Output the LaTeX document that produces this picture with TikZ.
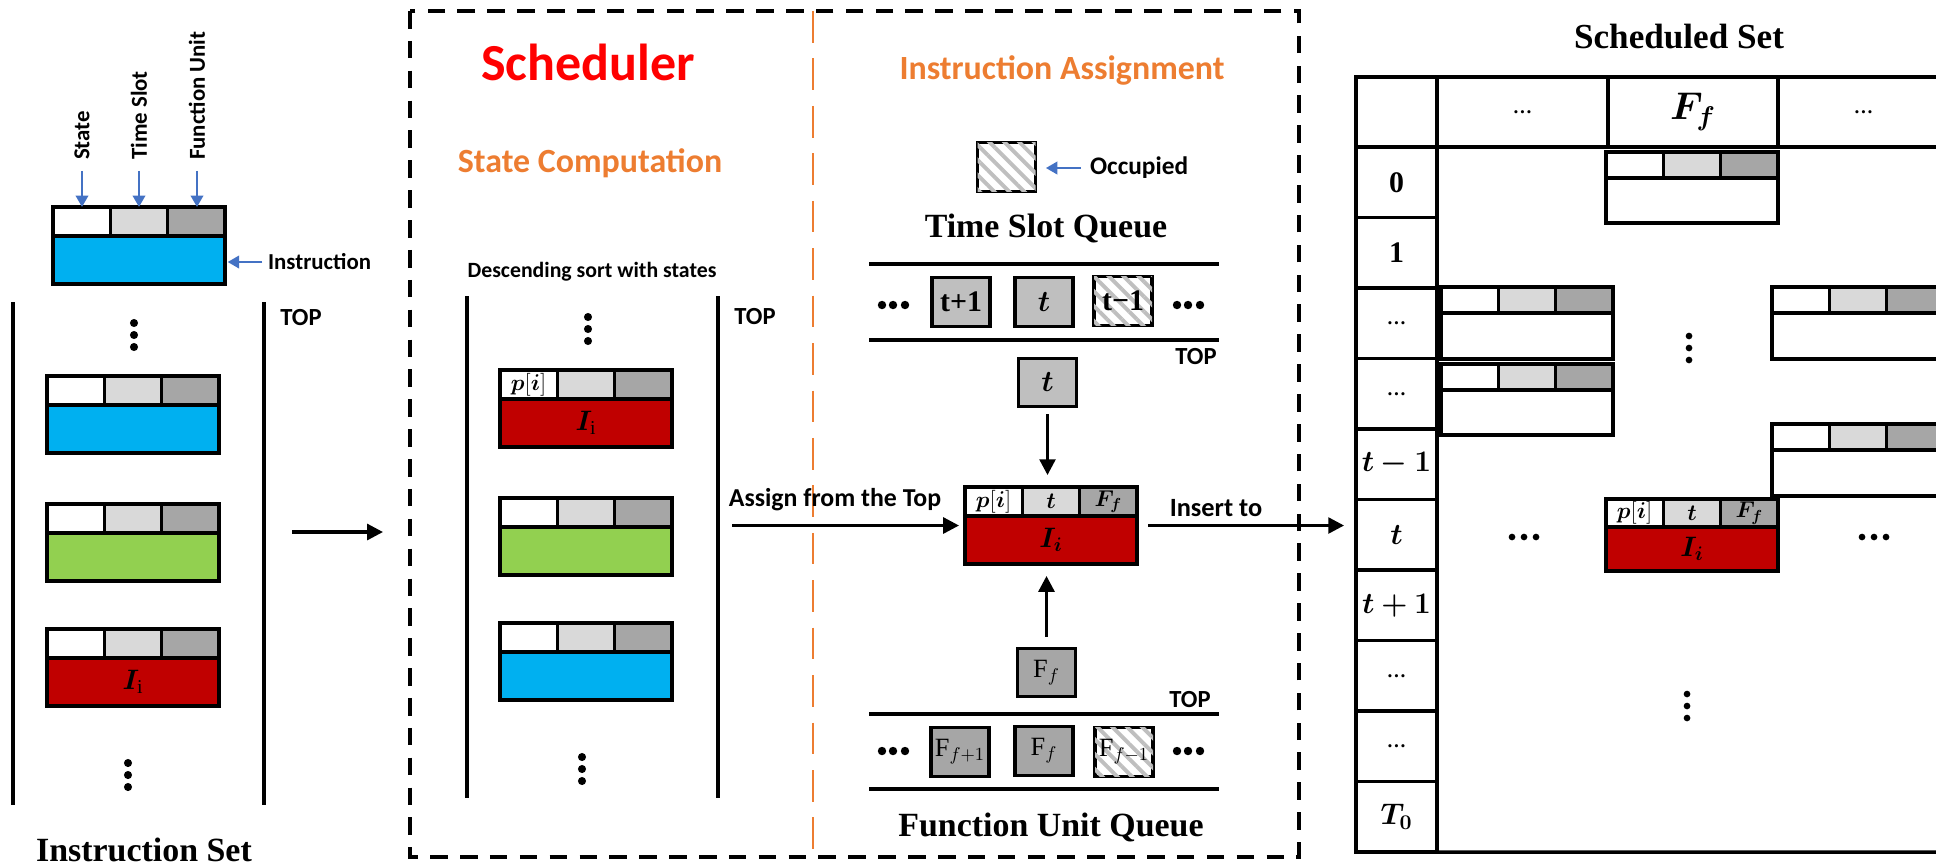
\documentclass[tikz,border=0pt]{standalone}
\usepackage{fix-cm}
\usepackage{amsmath}
\usepackage{fontspec}
\setmainfont{Liberation Serif}
\setsansfont{Carlito}
\usepackage{bm}
\usepackage{xcolor}
\usetikzlibrary{arrows.meta,patterns.meta}

\definecolor{instblue}{HTML}{00B0F0}
\definecolor{instgreen}{HTML}{92D050}
\definecolor{instred}{HTML}{C00000}
\definecolor{secorange}{HTML}{ED7D31}
\definecolor{arrblue}{HTML}{4472C4}
\definecolor{schedred}{HTML}{FF0000}
\definecolor{cellmid}{HTML}{D9D9D9}
\definecolor{cellend}{HTML}{A6A6A6}
\definecolor{slotgray}{HTML}{BFBFBF}
\definecolor{hatchgray}{HTML}{BFBFBF}

\tikzset{
  hdr/.store in=\hdr, tot/.store in=\tot, hdr=29, tot=77,
  box/.style={draw, line width=1.8pt},
  wall/.style={line width=2pt},
  celltxt/.style={inner sep=0pt, font=\fontsize{13}{14}\selectfont},
  bodytxt/.style={inner sep=0pt, font=\fontsize{16}{17}\selectfont},
  lbl/.style={inner sep=1pt, font=\sffamily\bfseries\fontsize{14}{16}\selectfont},
  capt/.style={inner sep=1pt, font=\bfseries\fontsize{19.3}{22}\selectfont},
  sect/.style={inner sep=1pt, text=secorange, font=\sffamily\bfseries\fontsize{19.3}{22}\selectfont},
  arr/.style={line width=1.8pt, -{Triangle[length=9pt,width=9pt]}},
  barr/.style={draw=arrblue, line width=1.5pt, -{Triangle[length=6.5pt,width=7pt]}},
  qbox/.style={draw, line width=1.8pt, fill=slotgray, minimum width=1.16cm, minimum height=0.97cm,
    inner sep=0pt, font=\bfseries\fontsize{17}{18}\selectfont},
  ubox/.style={qbox, fill=cellend, font=\fontsize{15}{16}\selectfont},
  hatched/.style={fill=white, postaction={pattern={Lines[angle=-45,distance=6pt,line width=2.2pt]},
    pattern color=hatchgray}},
  rowcell/.style={draw, line width=1.8pt, minimum width=1.62cm, minimum height=1.41cm, inner sep=0pt,
    outer sep=0pt, font=\bfseries\fontsize{17}{18}\selectfont},
  headcell/.style={rowcell, minimum height=1.4cm},
  pics/instr/.style n args={5}{code={
    \draw[box, fill=#1] (0,\hdr) rectangle (172,\tot);
    \draw[box, fill=white] (0,0) rectangle (57.33,\hdr);
    \draw[box, fill=cellmid] (57.33,0) rectangle (114.67,\hdr);
    \draw[box, fill=cellend] (114.67,0) rectangle (172,\hdr);
    \node[celltxt] (-c1) at (28.67,{\hdr/2}) {#2};
    \node[celltxt] (-c2) at (86,{\hdr/2}) {#3};
    \node[celltxt] (-c3) at (143.33,{\hdr/2}) {#4};
    \node[bodytxt] (-b) at (86,{(\hdr+\tot)/2}) {#5};
    \coordinate (-n) at (86,0);
    \coordinate (-s) at (86,\tot);
    \coordinate (-w) at (0,{\tot/2});
    \coordinate (-e) at (172,{\tot/2});
  }}
}

\begin{document}
\begin{tikzpicture}[x=0.02cm, y=-0.02cm]
  \useasboundingbox (0,0) rectangle (1936,867);
  \clip (0,0) rectangle (1936,867);

  % instruction set
  \pic (leg) at (53,207) {instr={instblue}{}{}{}{}};
  \node[lbl, rotate=90, anchor=west, font=\sffamily\bfseries\fontsize{13}{15}\selectfont] (lbS) at (82,162) {State};
  \node[lbl, rotate=90, anchor=west, font=\sffamily\bfseries\fontsize{13}{15}\selectfont] (lbT) at (139,162) {Time Slot};
  \node[lbl, rotate=90, anchor=west, font=\sffamily\bfseries\fontsize{13}{15}\selectfont] (lbF) at (197,162) {Function Unit};
  \node[lbl, anchor=west, font=\sffamily\bfseries\fontsize{13}{15}\selectfont] (lbI) at (266,262) {Instruction};
  \draw[barr, shorten <=5pt] (lbS.west) -- (lbS.west |- leg-n);
  \draw[barr, shorten <=5pt] (lbT.west) -- (lbT.west |- leg-n);
  \draw[barr, shorten <=5pt] (lbF.west) -- (lbF.west |- leg-n);
  \draw[barr, shorten <=2pt, shorten >=1.5pt] (lbI.west) -- (lbI.west -| leg-e);

  \draw[wall] (13,302) -- (13,805);
  \draw[wall] (264,302) -- (264,805);
  \node[lbl] (top1) at (301,318) {TOP};
  \foreach \y in {323,335,347} \fill (134,\y) circle (2.3pt);
  \pic (is1) at (47,376) {instr={instblue}{}{}{}{}};
  \pic (is2) at (47,504) {instr={instgreen}{}{}{}{}};
  \pic (is3) at (47,629) {instr={instred}{}{}{}{$\bm{I}_{\mathrm{i}}$}};
  \foreach \y in {763,775,787} \fill (128,\y) circle (2.3pt);
  \node[capt] (isc) at (144,850) {Instruction Set};

  \coordinate (la1) at (292,532);
  \coordinate (la2) at (383,532);
  \draw[arr] (la1) -- (la2);

  % scheduler
  \draw[line width=2pt, dash pattern=on 10pt off 7pt] (410,11) rectangle (1299,857);
  \draw[secorange, line width=1.6pt, dash pattern=on 18pt off 9pt] (813,11) -- (813,857);
  \node[inner sep=1pt, text=schedred, font=\sffamily\bfseries\fontsize{29.6}{32}\selectfont] (sch) at (588,62) {Scheduler};
  \node[sect] (stc) at (590,163) {State Computation};
  \node[lbl, font=\sffamily\bfseries\fontsize{12.4}{14}\selectfont] (dsc) at (592,272) {Descending sort with states};
  \draw[wall] (467,296) -- (467,798);
  \draw[wall] (718,296) -- (718,798);
  \node[lbl] (top2) at (755,317) {TOP};
  \foreach \y in {317,329,341} \fill (588,\y) circle (2.3pt);
  \pic (ss1) at (500,370) {instr={instred}{$\bm{p}[\bm{i}]$}{}{}{$\bm{I}_{\mathrm{i}}$}};
  \pic (ss2) at (500,498) {instr={instgreen}{}{}{}{}};
  \pic (ss3) at (500,623) {instr={instblue}{}{}{}{}};
  \foreach \y in {757,769,781} \fill (582,\y) circle (2.3pt);

  % instruction assignment
  \node[sect] (ias) at (1062,70) {Instruction Assignment};
  \node[qbox, hatched] (occ) at (1006.5,167) {};
  \node[lbl, anchor=west, font=\sffamily\bfseries\fontsize{14.4}{16}\selectfont] (lbO) at (1088,168) {Occupied};
  \draw[barr, shorten <=4pt, shorten >=5pt] (lbO.west) -- (lbO.west -| occ.east);

  \node[capt] (tsq) at (1046,228) {Time Slot Queue};
  \draw[wall] (869,264) -- (1219,264);
  \draw[wall] (869,340) -- (1219,340);
  \node[qbox] (tq1) at (961,302) {t+1};
  \node[qbox] (tq2) at (1044,302) {$\bm{t}$};
  \node[qbox, hatched] (tq3) at (1123,301) {t−1};
  \foreach \x in {882,893,905,1177,1188,1200} \fill (\x,305) circle (2.4pt);
  \node[lbl] (top3) at (1196,357) {TOP};
  \node[qbox] (tsel) at (1047.5,382.5) {$\bm{t}$};

  \pic (cen) at (965,487) {instr={instred}{$\bm{p}[\bm{i}]$}{$\bm{t}$}{$\bm{F_f}$}{$\bm{I_i}$}};

  \node[ubox] (fsel) at (1046.5,672.5) {$\mathrm{F}_f$};
  \node[lbl] (top4) at (1190,699) {TOP};
  \draw[wall] (869,714) -- (1219,714);
  \draw[wall] (869,789) -- (1219,789);
  \node[ubox] (fq1) at (960,752) {$\mathrm{F}_{f+1}$};
  \node[ubox] (fq2) at (1044,751) {$\mathrm{F}_f$};
  \node[ubox, hatched] (fq3) at (1124,752) {$\mathrm{F}_{f-1}$};
  \foreach \x in {882,893,905,1177,1188,1200} \fill (\x,751) circle (2.4pt);
  \node[capt] (fuq) at (1051,827) {Function Unit Queue};

  \draw[arr, shorten <=3.4pt, shorten >=6.8pt] (tsel.south) -- (tsel.south |- cen-n);
  \draw[arr, shorten <=5.7pt, shorten >=6.8pt] (fsel.north) -- (fsel.north |- cen-s);
  \coordinate (asg) at (732,525.5);
  \node[lbl, font=\sffamily\bfseries\fontsize{14.7}{16}\selectfont] (lbA) at (835,500) {Assign from the Top};
  \draw[arr, shorten >=3.4pt] (asg) -- (asg -| cen-w);

  % scheduled set
  \node[capt, font=\bfseries\fontsize{20}{22}\selectfont] (sst) at (1679,37) {Scheduled Set};
  \node[headcell] (tc) at (1396.5,112) {};
  \node[headcell, minimum width=3.42cm, font=\bfseries\fontsize{11}{12}\selectfont] (h1) at (1522.5,112) {…};
  \node[headcell, minimum width=3.40cm, font=\fontsize{22}{23}\selectfont] (h2) at (1693,112) {$\bm{F_f}$};
  \node[headcell, minimum width=3.42cm, font=\bfseries\fontsize{11}{12}\selectfont] (h3) at (1863.5,112) {…};
  \foreach \lab [count=\i] in {0, 1, {\fontsize{11}{12}\selectfont …}, {\fontsize{11}{12}\selectfont …},
      $\bm{t-1}$, $\bm{t}$, $\bm{t+1}$, {\fontsize{11}{12}\selectfont …}, {\fontsize{11}{12}\selectfont …}, $\bm{T_0}$}
    \node[rowcell] (r\i) at (1396.5,{111.75+70.5*\i}) {\lab};
  \draw[wall] (r10.south east) -- (1936,852);

  \node[lbl, font=\sffamily\bfseries\fontsize{15}{16}\selectfont] (lbN) at (1216,508) {Insert to};
  \draw[arr, shorten <=6.3pt, shorten >=6.8pt] (cen-e) -- (cen-e -| tc.west);

  \pic[hdr=26, tot=71] (tb1) at (1606,152) {instr={white}{}{}{}{}};
  \pic[hdr=26, tot=72] (tb2) at (1441,287) {instr={white}{}{}{}{}};
  \pic[hdr=26, tot=71] (tb3) at (1441,364) {instr={white}{}{}{}{}};
  \pic[hdr=26, tot=72] (tb4) at (1772,287) {instr={white}{}{}{}{}};
  \pic[hdr=26, tot=72] (tb5) at (1772,424) {instr={white}{}{}{}{}};
  \pic[hdr=28, tot=72] (tb6) at (1606,499) {instr={instred}{$\bm{p}[\bm{i}]$}{$\bm{t}$}{$\bm{F_f}$}{$\bm{I_i}$}};
  \foreach \y in {336,348,360} \fill (1689,\y) circle (1.9pt);
  \foreach \y in {694,706,718} \fill (1687,\y) circle (1.9pt);
  \foreach \x in {1512,1524,1536,1862,1874,1886} \fill (\x,537) circle (1.9pt);
\end{tikzpicture}
\end{document}
